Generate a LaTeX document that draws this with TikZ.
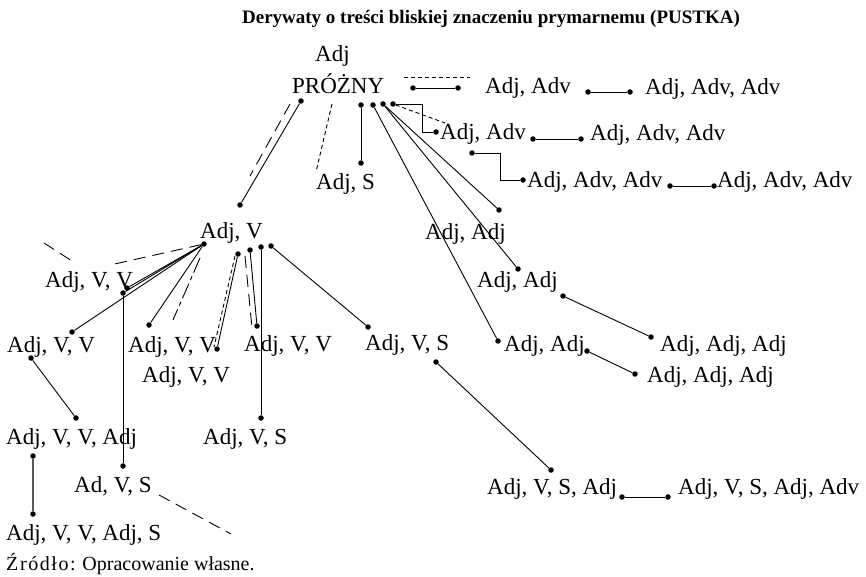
\documentclass[tikz,border=0pt]{standalone}
\usepackage{fontspec}
\setmainfont{Liberation Serif}

\begin{document}
\begin{tikzpicture}[x=1pt,y=-1pt,
  lbl/.style={anchor=base west,inner sep=0pt,font=\fontsize{23}{27}\selectfont},
  dot/.style={circle,fill,inner sep=0pt,minimum size=5.5pt},
  ln/.style={line width=0.9pt},
  sdash/.style={ln,dash pattern=on 4pt off 3pt},
  ldash/.style={ln,dash pattern=on 12pt off 7pt},
  ddot/.style={ln,dash pattern=on 16pt off 4pt on 4pt off 4pt}]
\useasboundingbox (0,0) rectangle (866,577);

\node[anchor=base,inner sep=0pt,font=\bfseries\fontsize{19}{23}\selectfont] (title) at (491,24)
  {Derywaty o treści bliskiej znaczeniu prymarnemu (PUSTKA)};

% labels
\node[lbl] (adj)    at (315,62)  {Adj};
\node[lbl] (prozny) at (292,94)  {PRÓŻNY};
\node[lbl] (a1)     at (485,94)  {Adj, Adv};
\node[lbl] (a1b)    at (645,95)  {Adj, Adv, Adv};
\node[lbl] (a2)     at (440,140) {Adj, Adv};
\node[lbl] (a2b)    at (590,141) {Adj, Adv, Adv};
\node[lbl] (a3)     at (527,188) {Adj, Adv, Adv};
\node[lbl] (a3b)    at (717,188) {Adj, Adv, Adv};
\node[lbl] (as)     at (316,190) {Adj, S};
\node[lbl] (av)     at (200,238) {Adj, V};
\node[lbl] (aa1)    at (425,239) {Adj, Adj};
\node[lbl] (aa2)    at (477,287) {Adj, Adj};
\node[lbl] (aa3)    at (504,351) {Adj, Adj};
\node[lbl] (aaa1)   at (660,351) {Adj, Adj, Adj};
\node[lbl] (aaa2)   at (647,382) {Adj, Adj, Adj};
\node[lbl] (avv1)   at (45,287)  {Adj, V, V};
\node[lbl] (avv2)   at (7,352)   {Adj, V, V};
\node[lbl] (avv3)   at (128,352) {Adj, V, V};
\node[lbl] (avv4)   at (244,351) {Adj, V, V};
\node[lbl] (avv5)   at (142,382) {Adj, V, V};
\node[lbl] (avs1)   at (365,350) {Adj, V, S};
\node[lbl] (avs2)   at (203,444) {Adj, V, S};
\node[lbl] (avva)   at (6,444)   {Adj, V, V, Adj};
\node[lbl] (advs)   at (74,492)  {Ad, V, S};
\node[lbl] (avsa)   at (487,494) {Adj, V, S, Adj};
\node[lbl] (avsab)  at (678,494) {Adj, V, S, Adj, Adv};
\node[lbl] (avvas)  at (6,540)   {Adj, V, V, Adj, S};
\node[anchor=base west,inner sep=0pt,font=\fontsize{20}{24}\selectfont] (src) at (6,570)
  {{\addfontfeatures{LetterSpace=8}Źródło:} Opracowanie własne.};

% dots
\foreach \n/\x/\y in {p1/301/101, p2/361/105, p3/373/105, p4/383/104, p5/393/104,
    q1/240/205, q2/361/163, q3/498/341, q4/518/269, q5/499/210, q6/436/132,
    r1/413/88, r2/458/88, r3/588/92, r4/630/92, r5/533/139, r6/581/139,
    r7/472/153, r8/523/180, r9/670/186, r10/714/186,
    s1/563/296, s2/651/337, s3/587/351, s4/635/374,
    h/204/244, v1/127/288, v2/72/332, v3/149/325,
    h2/238/254, v4/217/349, h3/250/250, v5/257/326, h4/261/247, v6/261/418,
    h5/271/246, v7/368/327, w1/123/293, w2/123/466, w3/31/358, w4/76/418,
    w5/33/456, w6/33/514, t1/436/362, t2/551/470, t3/622/497, t4/668/497}
  \node[dot] (\n) at (\x,\y) {};

% free ends
\coordinate (c1) at (290,104);  \coordinate (c2) at (250,176);
\coordinate (c3) at (332,104);  \coordinate (c4) at (316,172);
\coordinate (c5) at (445,123);  \coordinate (c6) at (404,77);
\coordinate (c7) at (470,77);   \coordinate (c8) at (422,104);
\coordinate (c9) at (500,153);  \coordinate (d1) at (110,265);
\coordinate (d2) at (200,258);  \coordinate (d3) at (173,320);
\coordinate (d4) at (235,256);  \coordinate (d5) at (214,347);
\coordinate (d6) at (245,256);  \coordinate (d7) at (252,328);
\coordinate (d8) at (44,243);   \coordinate (d9) at (72,261);
\coordinate (e1) at (159,495);  \coordinate (e2) at (231,534);

\path[ln]
  (p1) edge (q1)
  (p2) edge (q2)
  (p3) edge (q3)
  (p4) edge (q4)
  (p4) edge (q5)
  (r1) edge (r2)
  (r3) edge (r4)
  (r5) edge (r6)
  (r9) edge (r10)
  (s1) edge (s2)
  (s3) edge (s4)
  (h) edge (v1)
  (h) edge (w1)
  (h) edge (v2)
  (h) edge (v3)
  (h2) edge (v4)
  (h3) edge (v5)
  (h4) edge (v6)
  (h5) edge (v7)
  (w1) edge (w2)
  (w3) edge (w4)
  (t1) edge (t2)
  (t3) edge (t4);
\draw[ln,line width=1.2pt,gray!70!black] (w5) -- (w6);
\draw[ln] (p5) -- (c8) |- (q6);
\draw[ln] (r7) -- (c9) |- (r8);

\draw[ldash] (c1) -- (c2);
\draw[sdash] (c3) -- (c4);
\draw[sdash] (p5) -- (c5);
\draw[sdash] (c6) -- (c7);
\draw[ldash] (h) -- (d1);
\draw[ddot] (d2) -- (d3);
\draw[sdash] (d4) -- (d5);
\draw[ldash] (d6) -- (d7);
\draw[ldash] (d8) -- (d9);
\draw[ldash] (e1) -- (e2);
%\draw[ln] (adj) -- (prozny);
\end{tikzpicture}
\end{document}
